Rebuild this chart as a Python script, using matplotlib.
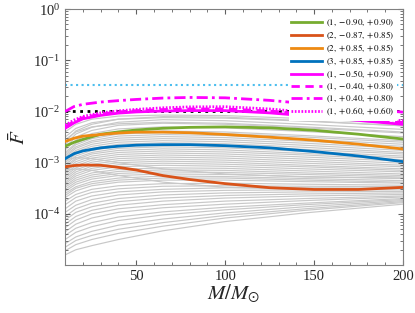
import matplotlib
matplotlib.use("Agg")
import matplotlib.pyplot as plt
import numpy as np

plt.rcParams["font.family"] = ["Liberation Serif", "DejaVu Serif"]
plt.rcParams["mathtext.fontset"] = "stix"

# background population, log10(F) read at these masses
gray_mass = [10, 16, 25, 40, 65, 100, 145, 200]
gray_log10 = [
    [-4.80, -4.70, -4.62, -4.50, -4.33, -4.15, -3.98, -3.81],
    [-4.72, -4.60, -4.50, -4.38, -4.24, -4.08, -3.93, -3.78],
    [-4.65, -4.52, -4.42, -4.30, -4.17, -4.03, -3.90, -3.76],
    [-4.58, -4.45, -4.34, -4.22, -4.10, -3.98, -3.86, -3.74],
    [-4.50, -4.36, -4.25, -4.13, -4.02, -3.92, -3.82, -3.72],
    [-4.42, -4.28, -4.17, -4.06, -3.96, -3.87, -3.79, -3.70],
    [-4.35, -4.20, -4.08, -3.97, -3.88, -3.81, -3.74, -3.67],
    [-4.27, -4.12, -4.00, -3.90, -3.82, -3.75, -3.70, -3.65],
    [-4.20, -4.05, -3.93, -3.83, -3.75, -3.69, -3.65, -3.62],
    [-4.12, -3.97, -3.86, -3.76, -3.69, -3.64, -3.61, -3.59],
    [-4.05, -3.90, -3.79, -3.70, -3.63, -3.59, -3.57, -3.56],
    [-3.97, -3.83, -3.72, -3.63, -3.57, -3.54, -3.53, -3.53],
    [-3.90, -3.75, -3.65, -3.57, -3.52, -3.49, -3.49, -3.50],
    [-3.82, -3.68, -3.58, -3.51, -3.46, -3.45, -3.46, -3.47],
    [-3.75, -3.62, -3.52, -3.45, -3.41, -3.40, -3.42, -3.44],
    [-3.68, -3.55, -3.45, -3.38, -3.34, -3.34, -3.37, -3.40],
    [-3.64, -3.50, -3.41, -3.34, -3.30, -3.30, -3.34, -3.38],
    [-3.60, -3.47, -3.37, -3.30, -3.26, -3.27, -3.31, -3.35],
    [-3.56, -3.42, -3.32, -3.25, -3.22, -3.23, -3.27, -3.31],
    [-3.52, -3.38, -3.28, -3.21, -3.18, -3.19, -3.23, -3.28],
    [-3.48, -3.34, -3.24, -3.17, -3.14, -3.15, -3.20, -3.25],
    [-3.45, -3.30, -3.20, -3.13, -3.10, -3.11, -3.16, -3.22],
    [-3.41, -3.26, -3.15, -3.08, -3.05, -3.07, -3.12, -3.18],
    [-3.38, -3.22, -3.11, -3.04, -3.01, -3.03, -3.08, -3.15],
    [-3.34, -3.18, -3.07, -3.00, -2.97, -2.99, -3.05, -3.12],
    [-3.30, -3.14, -3.03, -2.96, -2.93, -2.95, -3.01, -3.08],
    [-3.26, -3.10, -2.99, -2.92, -2.89, -2.91, -2.97, -3.05],
    [-3.22, -3.06, -2.95, -2.88, -2.85, -2.87, -2.93, -3.01],
    [-3.18, -3.02, -2.91, -2.84, -2.81, -2.83, -2.89, -2.97],
    [-3.15, -2.98, -2.87, -2.80, -2.77, -2.79, -2.85, -2.94],
    [-3.11, -2.94, -2.83, -2.76, -2.73, -2.75, -2.82, -2.90],
    [-3.08, -2.91, -2.80, -2.72, -2.69, -2.71, -2.78, -2.87],
    [-3.04, -2.87, -2.76, -2.68, -2.65, -2.67, -2.74, -2.83],
    [-3.00, -2.83, -2.72, -2.64, -2.61, -2.63, -2.70, -2.80],
    [-2.96, -2.79, -2.68, -2.60, -2.57, -2.59, -2.66, -2.76],
    [-2.93, -2.76, -2.64, -2.56, -2.53, -2.55, -2.62, -2.72],
    [-2.89, -2.72, -2.60, -2.52, -2.49, -2.51, -2.58, -2.68],
    [-2.86, -2.69, -2.57, -2.48, -2.45, -2.47, -2.54, -2.64],
    [-2.83, -2.65, -2.53, -2.44, -2.41, -2.43, -2.50, -2.60],
    [-2.80, -2.62, -2.50, -2.41, -2.38, -2.40, -2.47, -2.57],
    [-2.75, -2.56, -2.43, -2.34, -2.30, -2.32, -2.39, -2.49],
    [-2.70, -2.50, -2.37, -2.27, -2.23, -2.25, -2.32, -2.42],
    [-2.65, -2.44, -2.31, -2.21, -2.16, -2.18, -2.25, -2.35],
    [-2.60, -2.38, -2.25, -2.15, -2.10, -2.11, -2.18, -2.28],
    [-2.55, -2.40, -2.30, -2.24, -2.21, -2.23, -2.30, -2.40],
    [-2.50, -2.33, -2.22, -2.15, -2.12, -2.13, -2.19, -2.28],
    [-2.40, -2.25, -2.15, -2.09, -2.07, -2.08, -2.14, -2.24],
    [-3.15, -3.12, -3.15, -3.25, -3.38, -3.48, -3.52, -3.50],
    [-2.95, -2.90, -2.92, -3.00, -3.12, -3.22, -3.28, -3.30],
]

mass = [10, 15, 20, 30, 40, 50, 65, 80, 100, 125, 150, 175, 200]
green = [2.1e-3, 2.5e-3, 2.85e-3, 3.6e-3, 4.0e-3, 4.35e-3, 4.7e-3, 4.9e-3, 5.0e-3, 4.8e-3, 4.3e-3, 3.6e-3, 2.9e-3]
red = [8.3e-4, 8.8e-4, 9.0e-4, 8.9e-4, 8.1e-4, 7.2e-4, 5.6e-4, 4.7e-4, 3.9e-4, 3.25e-4, 3.0e-4, 3.0e-4, 3.3e-4]
orange = [2.6e-3, 3.0e-3, 3.3e-3, 3.55e-3, 3.8e-3, 3.95e-3, 3.95e-3, 3.85e-3, 3.55e-3, 3.15e-3, 2.75e-3, 2.3e-3, 1.85e-3]
blue = [1.2e-3, 1.5e-3, 1.7e-3, 1.95e-3, 2.1e-3, 2.2e-3, 2.25e-3, 2.25e-3, 2.15e-3, 1.95e-3, 1.65e-3, 1.35e-3, 1.05e-3]
mag_solid = [4.7e-3, 6.0e-3, 7.2e-3, 8.4e-3, 9.3e-3, 9.8e-3, 1.02e-2, 1.04e-2, 1.04e-2, 9.4e-3, 8.0e-3, 6.7e-3, 5.6e-3]
mag_dashed = [5.0e-3, 6.4e-3, 7.6e-3, 8.9e-3, 9.8e-3, 1.04e-2, 1.09e-2, 1.12e-2, 1.12e-2, 1.02e-2, 8.7e-3, 7.3e-3, 6.1e-3]
mag_dashdot = [1.0e-2, 1.25e-2, 1.38e-2, 1.53e-2, 1.63e-2, 1.72e-2, 1.83e-2, 1.88e-2, 1.85e-2, 1.65e-2, 1.38e-2, 1.15e-2, 9.7e-3]
mag_dotted = [5.4e-3, 6.8e-3, 8.0e-3, 9.4e-3, 1.03e-2, 1.10e-2, 1.18e-2, 1.23e-2, 1.24e-2, 1.12e-2, 9.4e-3, 7.9e-3, 6.6e-3]

labels = [
    r"$(1, -0.90, +0.90)$",
    r"$(2, -0.87, +0.85)$",
    r"$(2, +0.85, +0.85)$",
    r"$(3, +0.85, +0.85)$",
    r"$(1, -0.50, +0.90)$",
    r"$(1, -0.40, +0.80)$",
    r"$(1, +0.40, +0.80)$",
    r"$(1, +0.60, +0.60)$",
]

threshold = 1e-2
cyan_level = 3.3e-2

fig = plt.figure(figsize=(4.15, 3.13), dpi=100)
ax = fig.add_axes([0.157, 0.153, 0.814, 0.818])

for row in gray_log10:
    ax.plot(gray_mass, 10 ** np.array(row), color="#c8c8c8", lw=0.85, zorder=1)

ax.plot([10, 200], [threshold, threshold], ":", color="k", lw=2, zorder=2)
ax.plot([10, 200], [cyan_level, cyan_level], ":", color="#4dbeee", lw=1.5, zorder=2)

series = [
    (green, "#77ac30", "-"),
    (red, "#d95319", "-"),
    (orange, "#ee8a12", "-"),
    (blue, "#0072bd", "-"),
    (mag_solid, "#ff00ff", "-"),
    (mag_dashed, "#ff00ff", (0, (3, 2))),
    (mag_dashdot, "#ff00ff", (0, (4, 1.5, 1, 1.5))),
    (mag_dotted, "#ff00ff", (0, (0.6, 0.6))),
]
for (vals, col, ls), lab in zip(series, labels):
    ax.plot(mass, vals, color=col, ls=ls, lw=2, label=lab, zorder=3)

ax.set_yscale("log")
ax.set_xlim(10, 200)
ax.set_ylim(1e-5, 1)
ax.set_xticks([50, 100, 150, 200])
ax.set_xticks(np.arange(10, 201, 10), minor=True)
ax.set_yticks([1e-4, 1e-3, 1e-2, 1e-1, 1])

for s in ax.spines.values():
    s.set_color("#808080")
ax.tick_params(which="both", direction="in", top=True, right=True, color="#606060",
               labelcolor="#262626", labelsize=10.5)
ax.tick_params(which="major", length=3.5)
ax.tick_params(which="minor", length=2)

ax.set_xlabel(r"$M/M_{\odot}$", fontsize=15, color="#262626", labelpad=0)
ax.set_ylabel(r"$\bar{F}$", fontsize=15, color="#262626", labelpad=2)

leg = ax.legend(loc="upper right", fontsize=6.5, handlelength=3.4, labelspacing=0.1,
                borderaxespad=0.7, frameon=True, fancybox=False, handletextpad=0.4,
                borderpad=0.3)
leg.get_frame().set_edgecolor("none")
leg.get_frame().set_facecolor("white")
leg.get_frame().set_alpha(1)
leg.set_zorder(5)

fig.savefig("out.png", dpi=100)
